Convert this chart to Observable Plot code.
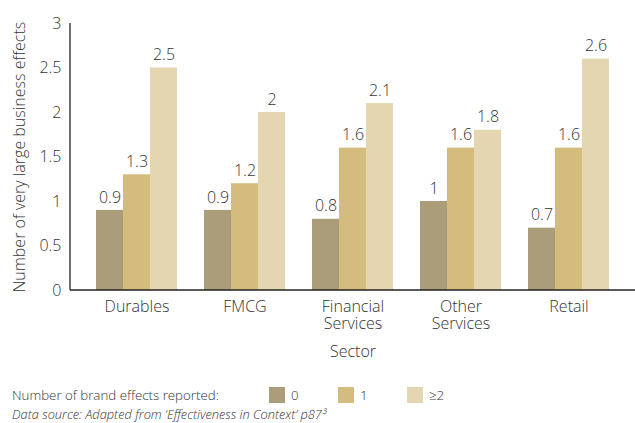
<!DOCTYPE html>
<html>
<head>
<meta charset="utf-8">
<script src="https://cdn.jsdelivr.net/npm/d3@7"></script>
<script src="https://cdn.jsdelivr.net/npm/@observablehq/plot@0.6"></script>
<style>
  body { margin: 0; background: #fff; font-family: "Open Sans", Lato, sans-serif; font-weight: 300; color: #333; }
  #legend { display: flex; align-items: center; height: 18px; margin-top: 16px; font-size: 13.3px; color: #333; }
  #legend .title { margin-left: 12px; width: 257px; }
  #legend .sw { width: 16px; height: 16px; display: inline-block; margin-right: 6px; }
  #legend .item { display: flex; align-items: center; width: 69px; }
  #caption { font-size: 12.8px; font-style: italic; color: #333; margin-left: 12px; margin-top: 1px; }
</style>
</head>
<body>
<div id="chart"></div>
<div id="legend"></div>
<div id="caption">Data source: Adapted from ‘Effectiveness in Context’ p87³</div>
<script>
const sectors = ["Durables", "FMCG", "Financial Services", "Other Services", "Retail"];
const groups = ["0", "1", "≥2"];
const values0 = [0.9, 0.9, 0.8, 1, 0.7];
const values1 = [1.3, 1.2, 1.6, 1.6, 1.6];
const values2 = [2.5, 2, 2.1, 1.8, 2.6];
const yTicks = [0, 0.5, 1, 1.5, 2, 2.5, 3];
const colors = ["#ab9d79", "#d3bc7e", "#e4d6b0"];
const legendTitle = "Number of brand effects reported:";
const yLabel = "Number of very large business effects";
const xLabel = "Sector";

const series = [values0, values1, values2];
const data = [];
sectors.forEach((s, i) => groups.forEach((g, j) => data.push({sector: s, group: g, value: series[j][i]})));

const chart = Plot.plot({
  width: 635,
  height: 370,
  marginLeft: 70,
  marginRight: 0,
  marginTop: 23,
  marginBottom: 80,
  style: {fontFamily: "'Open Sans', Lato, sans-serif", fontWeight: 300, fontSize: "16px", color: "#333", background: "#fff"},
  fx: {domain: sectors, paddingInner: 0.236, paddingOuter: 0.22},
  x: {domain: groups, padding: 0, axis: null},
  y: {domain: [0, 3]},
  color: {domain: groups, range: colors},
  marks: [
    Plot.barY(data, {fx: "sector", x: "group", y: "value", fill: "group"}),
    Plot.text(data, {fx: "sector", x: "group", y: "value", text: d => String(d.value), dy: -13, fontSize: 16, fill: "#333"}),
    Plot.axisY({ticks: yTicks, tickSize: 0, tickPadding: 34, tickFormat: d => String(d), fontSize: 16,
      label: yLabel, labelAnchor: "center", labelArrow: false, labelOffset: 82}),
    Plot.axisFx({anchor: "bottom", tickSize: 0, tickPadding: 9, lineHeight: 1.08, fontSize: 16,
      tickFormat: d => d.replace(" ", "\n"), label: xLabel, labelAnchor: "center", labelOffset: 66})
  ]
});
document.getElementById("chart").appendChild(chart);

// strip any label arrows
d3.select(chart).selectAll("text").each(function() {
  const t = this.textContent;
  if (t.includes("→") || t.includes("↑")) this.textContent = t.replace(/\s*[→↑]\s*/g, "");
});

// axis lines drawn through the plot's scales
const ys = chart.scale("y");
const svg = d3.select(chart);
svg.append("line").attr("x1", 70).attr("x2", 635).attr("y1", ys.apply(0)).attr("y2", ys.apply(0)).attr("stroke", "#222").attr("stroke-width", 1.3);
svg.append("line").attr("x1", 70).attr("x2", 70).attr("y1", ys.apply(3)).attr("y2", ys.apply(0)).attr("stroke", "#222").attr("stroke-width", 1.3);

const legend = d3.select("#legend");
legend.append("span").attr("class", "title").text(legendTitle);
groups.forEach((g, i) => {
  const it = legend.append("span").attr("class", "item");
  it.append("span").attr("class", "sw").style("background", colors[i]);
  it.append("span").text(g);
});
</script>
</body>
</html>
